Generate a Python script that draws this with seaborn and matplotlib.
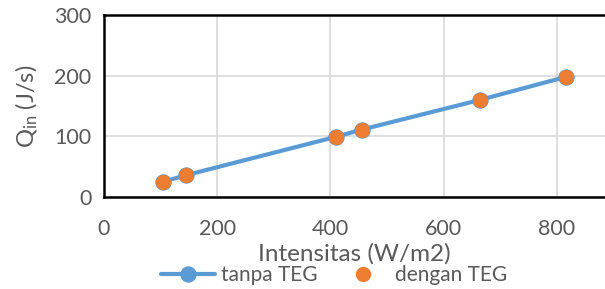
import numpy as np
import pandas as pd
import matplotlib
matplotlib.use("Agg")
import matplotlib.pyplot as plt
import seaborn as sns

# data
intensitas = [104, 145, 409, 455, 664, 816]
q_tanpa = [25, 36, 99, 111, 160, 198]
q_dengan = [25, 36, 99, 111, 160, 198]

df = pd.DataFrame({"Intensitas": intensitas, "tanpa": q_tanpa, "dengan": q_dengan})

sns.set_style("white")
plt.rcParams["font.family"] = ["Lato", "DejaVu Sans"]
plt.rcParams["mathtext.fontset"] = "custom"
plt.rcParams["mathtext.rm"] = "Lato"
plt.rcParams["mathtext.it"] = "Lato"

grey = "#595959"
blue = "#5B9BD5"
orange = "#ED7D31"

fig = plt.figure(figsize=(6.05, 2.89), dpi=100)
ax = fig.add_axes([104 / 605, 1 - 197 / 289, (605 - 104) / 605, 182 / 289])

sns.lineplot(data=df, x="Intensitas", y="tanpa", ax=ax, color=blue, linewidth=3,
             marker="o", markersize=11, markeredgecolor=blue, label="tanpa TEG", zorder=3)
ax.plot(df["Intensitas"], df["dengan"], linestyle="none", marker="o", markersize=10,
        color=orange, markeredgecolor=orange, label="dengan TEG", zorder=4)

ax.set_xlim(0, 885)
ax.set_ylim(0, 300)
ax.set_xticks([0, 200, 400, 600, 800])
ax.set_yticks([0, 100, 200, 300])
ax.grid(True, color="#D9D9D9", linewidth=1.2)
ax.set_axisbelow(True)
for s in ["top", "left", "bottom"]:
    ax.spines[s].set_color("black")
    ax.spines[s].set_linewidth(1.8)
ax.spines["right"].set_visible(False)
ax.tick_params(axis="both", length=0, labelsize=15.5, labelcolor=grey)
ax.tick_params(axis="x", pad=16)
ax.tick_params(axis="y", pad=9)

ax.set_xlabel("Intensitas (W/m2)", fontsize=17.5, color=grey, labelpad=3)
ax.set_ylabel("Q$_{\\mathrm{in}}$ (J/s)", fontsize=17, color=grey, labelpad=10)

ax.legend(loc="center", bbox_to_anchor=(0.46, -0.43), ncol=2, frameon=False,
          fontsize=15, labelcolor=grey, handlelength=2.6, columnspacing=0.9,
          handletextpad=0.25, borderpad=0)

fig.savefig("out.png", dpi=100)
